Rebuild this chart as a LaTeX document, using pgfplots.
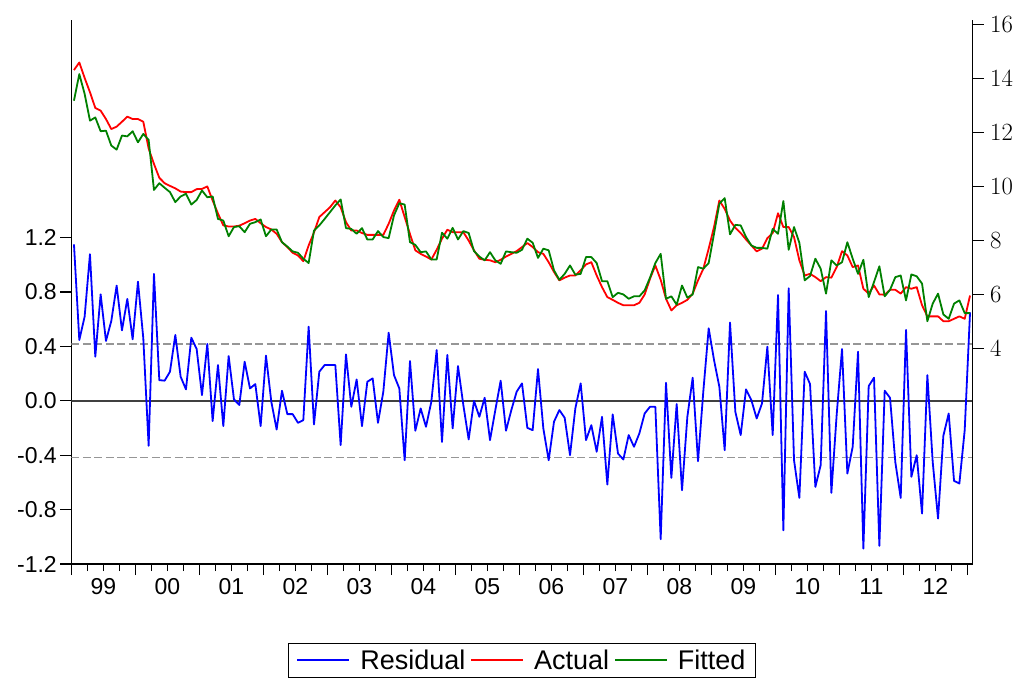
\documentclass[border=0pt]{standalone}
\usepackage{pgfplots}
\pgfplotsset{compat=1.18}
\usepackage{pgfplotstable}
\usepackage{fontspec}
\setmainfont{Liberation Sans}

\definecolor{evgreen}{RGB}{0,128,0}
\definecolor{sebandgray}{RGB}{150,150,150}

% long line samples in the legend
\pgfplotsset{legend image code/.code={\draw[#1] (0bp,0bp) -- (52bp,0bp);}}
\newcommand{\legpad}{\rule{8bp}{0bp}}

% monthly observations, 1999M01 .. 2013M01 (t = 0 .. 168)
\pgfplotstableread{
t res act fit
0 1.150 14.30 13.17
1 0.447 14.58 14.15
2 0.619 14.01 13.42
3 1.078 13.48 12.43
4 0.324 12.90 12.55
5 0.783 12.80 12.04
6 0.440 12.49 12.06
7 0.587 12.12 11.51
8 0.847 12.21 11.36
9 0.518 12.39 11.88
10 0.749 12.58 11.85
11 0.452 12.49 12.04
12 0.876 12.49 11.63
13 0.459 12.39 11.94
14 -0.331 11.40 11.72
15 0.933 10.83 9.87
16 0.152 10.32 10.12
17 0.148 10.12 9.95
18 0.214 10.02 9.79
19 0.484 9.93 9.42
20 0.177 9.81 9.63
21 0.084 9.79 9.73
22 0.464 9.79 9.33
23 0.381 9.90 9.50
24 0.042 9.91 9.85
25 0.418 10.00 9.60
26 -0.149 9.48 9.63
27 0.263 9.00 8.80
28 -0.186 8.56 8.74
29 0.329 8.52 8.16
30 0.010 8.52 8.50
31 -0.031 8.55 8.53
32 0.287 8.64 8.31
33 0.091 8.74 8.62
34 0.123 8.80 8.68
35 -0.186 8.64 8.78
36 0.332 8.50 8.16
37 -0.007 8.41 8.41
38 -0.211 8.25 8.41
39 0.074 7.94 7.94
40 -0.098 7.76 7.78
41 -0.098 7.55 7.60
42 -0.162 7.45 7.55
43 -0.142 7.24 7.33
44 0.545 7.82 7.17
45 -0.174 8.30 8.37
46 0.214 8.87 8.56
47 0.263 9.05 8.80
48 0.263 9.23 9.05
49 0.263 9.48 9.30
50 -0.326 9.23 9.52
51 0.341 8.68 8.46
52 -0.044 8.37 8.43
53 0.157 8.37 8.25
54 -0.186 8.28 8.46
55 0.140 8.21 8.04
56 0.165 8.21 8.04
57 -0.162 8.21 8.35
58 0.067 8.21 8.13
59 0.501 8.62 8.09
60 0.189 9.11 8.93
61 0.091 9.51 9.38
62 -0.437 8.87 9.33
63 0.292 8.24 7.94
64 -0.220 7.64 7.84
65 -0.056 7.51 7.57
66 -0.191 7.41 7.60
67 -0.007 7.30 7.30
68 0.373 7.66 7.30
69 -0.302 8.07 8.29
70 0.337 8.40 8.07
71 -0.203 8.31 8.47
72 0.255 8.31 8.04
73 -0.031 8.31 8.35
74 -0.284 8.00 8.28
75 0.000 7.64 7.61
76 -0.118 7.33 7.41
77 0.022 7.29 7.27
78 -0.289 7.27 7.57
79 -0.068 7.20 7.27
80 0.148 7.29 7.14
81 -0.220 7.41 7.60
82 -0.068 7.51 7.57
83 0.067 7.61 7.55
84 0.128 7.76 7.66
85 -0.199 7.91 8.07
86 -0.216 7.76 7.92
87 0.233 7.57 7.36
88 -0.203 7.51 7.70
89 -0.437 7.20 7.64
90 -0.154 6.84 6.90
91 -0.068 6.53 6.55
92 -0.125 6.63 6.77
93 -0.400 6.71 7.08
94 -0.056 6.71 6.74
95 0.128 6.90 6.77
96 -0.289 7.12 7.39
97 -0.179 7.20 7.39
98 -0.375 6.71 7.17
99 -0.118 6.28 6.50
100 -0.616 5.91 6.50
101 -0.100 5.81 5.91
102 -0.388 5.70 6.07
103 -0.432 5.61 6.01
104 -0.252 5.61 5.85
105 -0.338 5.61 5.94
106 -0.240 5.70 5.94
107 -0.093 6.01 6.16
108 -0.044 6.59 6.63
109 -0.044 7.08 7.17
110 -1.018 6.55 7.51
111 0.133 5.85 5.85
112 -0.567 5.42 5.94
113 -0.024 5.61 5.63
114 -0.658 5.70 6.34
115 -0.118 5.81 5.89
116 0.170 6.04 6.01
117 -0.444 6.53 7.02
118 0.072 6.96 6.96
119 0.533 7.70 7.17
120 0.300 8.50 8.25
121 0.103 9.48 9.36
122 -0.363 9.17 9.57
123 0.575 8.74 8.23
124 -0.081 8.47 8.58
125 -0.252 8.28 8.56
126 0.084 8.04 8.13
127 0.005 7.82 7.82
128 -0.130 7.60 7.73
129 -0.019 7.70 7.73
130 0.398 8.09 7.70
131 -0.252 8.28 8.43
132 0.778 9.01 8.25
133 -0.952 8.50 9.46
134 0.827 8.50 7.66
135 -0.437 8.13 8.50
136 -0.714 7.27 7.92
137 0.214 6.71 6.53
138 0.123 6.77 6.69
139 -0.633 6.65 7.33
140 -0.473 6.50 6.96
141 0.660 6.65 6.04
142 -0.677 6.63 7.27
143 -0.100 7.02 7.08
144 0.381 7.61 7.20
145 -0.535 7.45 7.94
146 -0.338 7.02 7.33
147 0.361 7.08 6.77
148 -1.087 6.22 7.29
149 0.108 6.04 5.91
150 0.170 6.34 6.47
151 -1.067 6.01 7.05
152 0.074 6.00 5.94
153 0.022 6.18 6.18
154 -0.454 6.18 6.65
155 -0.714 6.04 6.71
156 0.521 6.28 5.79
157 -0.559 6.22 6.75
158 -0.400 6.28 6.68
159 -0.829 5.61 6.41
160 0.189 5.20 5.02
161 -0.449 5.20 5.67
162 -0.866 5.20 6.04
163 -0.257 5.02 5.27
164 -0.093 5.02 5.11
165 -0.589 5.11 5.67
166 -0.608 5.20 5.79
167 -0.216 5.11 5.32
168 0.651 5.97 5.32
}\rafdata

\pgfplotsset{
  rafbase/.style={
    at={(71.3bp,118bp)}, anchor=south west,
    scale only axis, width=901.4bp, height=544bp,
    xmin=-0.5, xmax=168.5,
    tick align=outside,
    major tick length=11bp, minor tick length=7bp,
    every tick/.style={black, line width=1.1bp},
    axis line style={black, line width=1.3bp},
    every tick label/.append style={font=\fontsize{23bp}{27bp}\selectfont},
  },
}

\begin{document}
\begin{tikzpicture}
% left scale: residual
\begin{axis}[rafbase,
  ymin=-1.2, ymax=2.8,
  axis x line*=bottom, axis y line*=left,
  xtick={-0.5,11.5,23.5,35.5,47.5,59.5,71.5,83.5,95.5,107.5,119.5,131.5,143.5,155.5,167.5},
  xticklabels={99,00,01,02,03,04,05,06,07,08,09,10,11,12},
  x tick label as interval,
  minor x tick num=3,
  ytick={-1.2,-0.8,-0.4,0,0.4,0.8,1.2},
  yticklabels={-1.2,-0.8,-0.4,0.0,0.4,0.8,1.2},
]
\addplot[sebandgray, line width=1.2bp, dash pattern=on 8bp off 3.5bp, forget plot]
  coordinates {(-0.5,0.4175) (168.5,0.4175)};
\addplot[sebandgray, line width=1.2bp, dash pattern=on 8bp off 3.5bp, forget plot]
  coordinates {(-0.5,-0.4175) (168.5,-0.4175)};
\addplot[black!75, line width=1.8bp, forget plot]
  coordinates {(-0.5,0) (168.5,0)};
\addplot[blue, line width=1.8bp, line join=round] table[x=t, y=res]{\rafdata};
\end{axis}
% right scale: actual and fitted
\begin{axis}[rafbase,
  ymin=-3.95, ymax=16.15,
  axis x line=none, axis y line*=right,
  yticklabel style={xshift=3bp},
  ytick={4,6,8,10,12,14,16},
  legend columns=3,
  legend style={at={(0.5,-0.145)}, anchor=north, draw=black,
    font=\fontsize{27bp}{31bp}\selectfont,
    inner xsep=8bp, inner ysep=4.5bp,
    /tikz/every even column/.append style={column sep=3bp}},
]
\addlegendimage{blue, line width=1.8bp}
\addlegendentry{\legpad Residual}
\addplot[red, line width=1.8bp, line join=round] table[x=t, y=act]{\rafdata};
\addlegendentry{\legpad Actual}
\addplot[evgreen, line width=1.8bp, line join=round] table[x=t, y=fit]{\rafdata};
\addlegendentry{\legpad Fitted}
\end{axis}
\pgfresetboundingbox
\path[use as bounding box] (0,0) rectangle (1027bp,682bp);
\end{tikzpicture}
\end{document}
